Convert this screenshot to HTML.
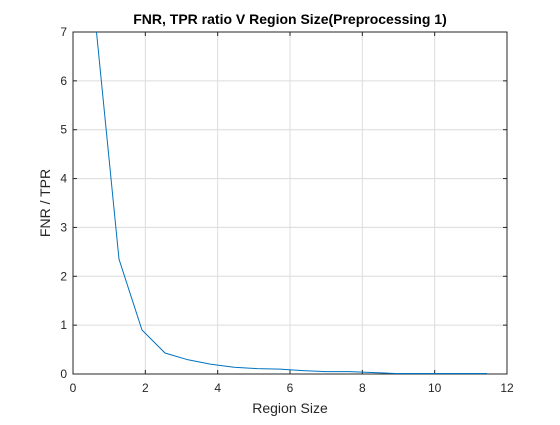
<!DOCTYPE html>
<html><head><meta charset="utf-8"><style>
body{margin:0;background:#fff;}
svg text{font-family:"Liberation Sans",sans-serif;}
</style></head><body>
<svg id="chart" width="560" height="420">
<rect width="560" height="420" fill="#fff"/>
<defs><clipPath id="clip"><rect x="73" y="32" width="434" height="342"/></clipPath></defs>
<g id="grid"></g>
<rect x="73" y="32" width="434" height="342" fill="none" stroke="#262626" stroke-width="1"/>
<g id="ticks"></g>
<g clip-path="url(#clip)"><path id="line" fill="none" stroke="#0072bd" stroke-width="1"/></g>
<text x="290" y="24" text-anchor="middle" font-size="14" font-weight="bold" fill="#000">FNR, TPR ratio V Region Size(Preprocessing 1)</text>
<text x="290" y="413" text-anchor="middle" font-size="14" fill="#262626">Region Size</text>
<text transform="translate(50,203) rotate(-90)" text-anchor="middle" font-size="14" fill="#262626">FNR / TPR</text>
</svg>
<script>
const xValues=[0.636,1.272,1.908,2.544,3.18,3.816,4.452,5.088,5.724,6.36,6.996,7.632,8.268,8.904,9.54,10.176,10.812,11.448];
const yValues=[7.1,2.35,0.9,0.43,0.29,0.2,0.14,0.11,0.1,0.07,0.05,0.05,0.03,0.01,0.01,0.01,0.01,0.01];
const xTicks=[0,2,4,6,8,10,12];
const yTicks=[0,1,2,3,4,5,6,7];
const sx=v=>73+v*(434/12);
const sy=v=>374-v*(342/7);
const ns="http://www.w3.org/2000/svg";
const grid=document.getElementById('grid'),ticks=document.getElementById('ticks');
function mk(tag,attrs,parent){const e=document.createElementNS(ns,tag);for(const k in attrs)e.setAttribute(k,attrs[k]);parent.appendChild(e);return e;}
xTicks.forEach(t=>{
 const x=sx(t);
 const g=mk('line',{x1:x,x2:x,y1:32,y2:374,stroke:'#dcdcdc','stroke-width':1},grid);
 
 
 mk('line',{x1:x,x2:x,y1:374,y2:370,stroke:'#262626'},ticks);
 mk('line',{x1:x,x2:x,y1:32,y2:36,stroke:'#262626'},ticks);
 const l=mk('text',{x:x,y:392,'text-anchor':'middle','font-size':12,fill:'#262626'},ticks);
 l.textContent=t;
 
 
});
yTicks.forEach(t=>{
 const y=sy(t);
 const g=mk('line',{x1:73,x2:507,y1:y,y2:y,stroke:'#dcdcdc','stroke-width':1},grid);
 
 
 mk('line',{x1:73,x2:77,y1:y,y2:y,stroke:'#262626'},ticks);
 mk('line',{x1:507,x2:503,y1:y,y2:y,stroke:'#262626'},ticks);
 const l=mk('text',{x:67,y:y+4,'text-anchor':'end','font-size':12,fill:'#262626'},ticks);
 l.textContent=t;
 
 
});
document.getElementById('line').setAttribute('d',xValues.map((x,i)=>(i?'L':'M')+sx(x).toFixed(1)+','+sy(yValues[i]).toFixed(1)).join(''));
</script>
</body></html>
